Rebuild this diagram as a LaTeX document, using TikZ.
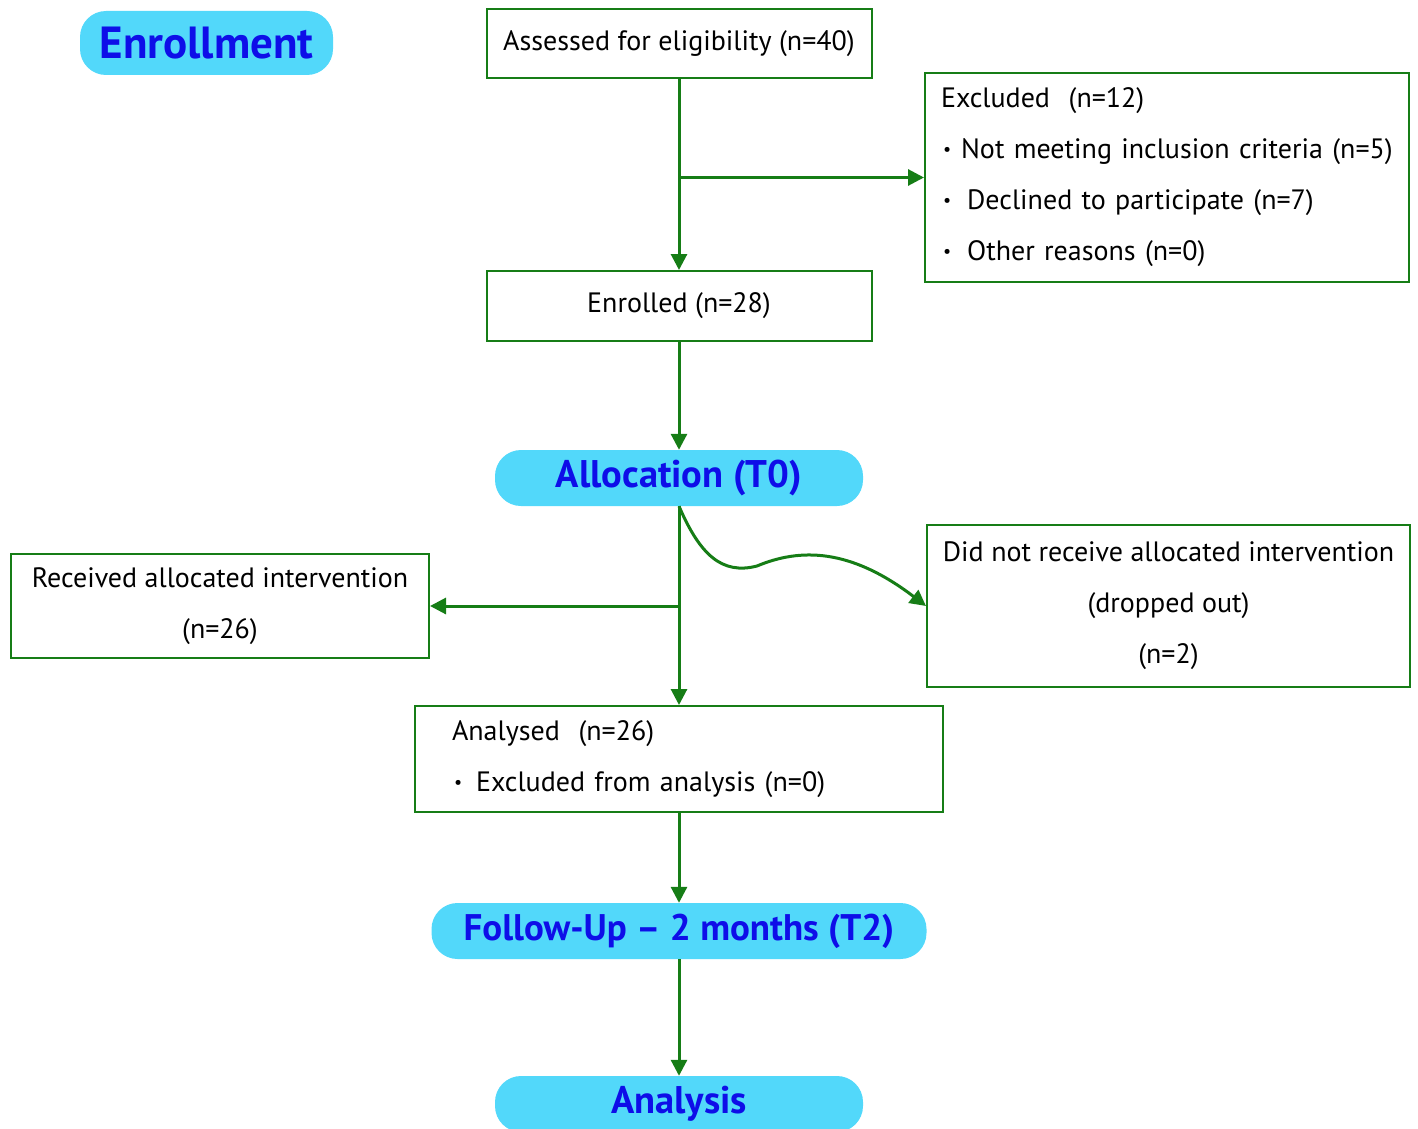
\documentclass[tikz,border=0pt]{standalone}
\usepackage{fontspec}
\setmainfont{PT Sans}
\usetikzlibrary{arrows.meta}
\definecolor{lineg}{RGB}{22,125,22}
\definecolor{pill}{RGB}{82,216,250}
\definecolor{pilltext}{RGB}{14,14,232}
\newcommand{\smbul}{\raisebox{3pt}{\fontsize{18}{18}\selectfont\textbullet}}
\begin{document}
\begin{tikzpicture}[x=1pt,y=-1pt,
  box/.style={draw=lineg, line width=2pt, inner sep=0pt, font=\fontsize{28}{51}\selectfont},
  pillbox/.style={fill=pill, rounded corners=26pt, inner sep=0pt, text=pilltext, font=\fontsize{38.5}{42}\selectfont\bfseries},
  conn/.style={draw=lineg, line width=3pt, -{Triangle[length=16pt,width=16pt]}},
  ]
\useasboundingbox (0,0) rectangle (1418,1129);
\clip (0,0) rectangle (1418,1129);
\node[pillbox, minimum width=253pt, minimum height=64pt, font=\fontsize{45}{48}\selectfont\bfseries] (enroll) at (206.5,43) {Enrollment};
\node[box, minimum width=385pt, minimum height=69pt] (assess) at (679,43.5) {Assessed for eligibility (n=40)};
\node[box, minimum width=385pt, minimum height=70pt] (enrolled) at (679,306) {Enrolled (n=28)};
\node[box, minimum height=209pt, inner xsep=16pt, text width=452pt, align=left] (excl) at (1167,177.5)
  {Excluded\ \ (n=12)\\
   \mbox{\hspace{2pt}\smbul\hspace{10pt}Not meeting inclusion criteria (n=5)}\\
   \hspace*{2pt}\smbul\hspace{16pt}Declined to participate (n=7)\\
   \hspace*{2pt}\smbul\hspace{16pt}Other reasons (n=0)};
\node[pillbox, minimum width=368pt, minimum height=56pt] (alloc) at (679,478) {Allocation (T0)};
\node[box, minimum width=418pt, minimum height=104pt, align=center] (received) at (220,606)
  {Received allocated intervention\\(n=26)};
\node[box, minimum width=483pt, minimum height=162pt, align=center] (dnr) at (1168.5,606)
  {Did not receive allocated intervention\\(dropped out)\\(n=2)};
\node[box, minimum height=106pt, inner xsep=37pt, text width=454pt, align=left] (analysed) at (679,759)
  {Analysed\ \ (n=26)\\
   \hspace*{2pt}\smbul\hspace{14pt}Excluded from analysis (n=0)};
\node[pillbox, minimum width=495pt, minimum height=56pt, font=\fontsize{37}{40}\selectfont\bfseries] (followup) at (679,931) {Follow-Up -- 2 months (T2)};
\node[pillbox, minimum width=368pt, minimum height=56pt] (analysis) at (679,1104) {Analysis};
\draw[conn] (assess.south) -- (enrolled.north);
\draw[conn] (assess.south |- excl.west) -- (excl.west);
\draw[conn] (enrolled.south) -- (alloc.north);
\draw[conn] (alloc.south) -- (analysed.north);
\draw[conn] (alloc.south |- received.east) -- (received.east);
\draw[conn] (alloc.south) .. controls (700,555) and (722,575) .. (757,566) .. controls (800,548) and (850,548) .. (dnr.west);
\draw[conn] (analysed.south) -- (followup.north);
\draw[conn] (followup.south) -- (analysis.north);
\end{tikzpicture}
\end{document}
